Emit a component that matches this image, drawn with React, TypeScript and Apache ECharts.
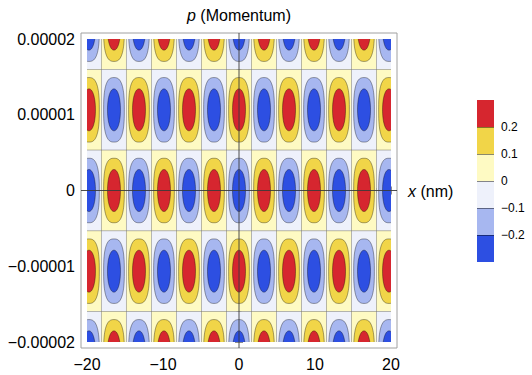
import React, { useEffect, useRef } from "react";
import * as echarts from "echarts";

// ---- data ----
const xTicks = [-20, -10, 0, 10, 20];
const xTickLabels = ["−20", "−10", "0", "10", "20"];
const yTicks = [-0.00002, -0.00001, 0, 0.00001, 0.00002];
const yTickLabels = ["−0.00002", "−0.00001", "0", "0.00001", "0.00002"];

// centres of the lobes (x in nm, y = momentum)
const lobeX = [-19.74, -16.45, -13.16, -9.87, -6.58, -3.29, 0, 3.29, 6.58, 9.87, 13.16, 16.45, 19.74];
const lobeY = [0.0000213, 0.00001065, 0, -0.00001065, -0.0000213];
// sign of each lobe, one string per row of lobeY, one char per lobeX
const lobeSign = [
  "-+-+-+-+-+-+-",
  "+-+-+-+-+-+-+",
  "-+-+-+-+-+-+-",
  "+-+-+-+-+-+-+",
  "-+-+-+-+-+-+-",
];
const lobeWidth = 3.29;
const lobeHeight = 0.00001065;

const contourLevels = [-0.3, -0.2, -0.1, 0, 0.1, 0.2, 0.3];
const levelColors = ["#2d4fe2", "#a7b7f0", "#eef1fb", "#fefac3", "#f1d548", "#d6262f"];
const colorbarTicks = [-0.2, -0.1, 0, 0.1, 0.2];
const colorbarTickLabels = ["−0.2", "−0.1", "0", "0.1", "0.2"];

const FONT = "'Liberation Sans', Arial, Helvetica, sans-serif";
const GRID = { left: 87, top: 39, width: 304, height: 303 };
const CBAR = { left: 477, top: 100, width: 17, height: 162 };

function blobPoints(cx: number, cy: number, a: number, b: number, n: number, count: number) {
  const pts: number[][] = [];
  for (let i = 0; i < count; i++) {
    const t = (i / count) * Math.PI * 2;
    const c = Math.cos(t), s = Math.sin(t);
    pts.push([
      cx + a * Math.sign(c) * Math.pow(Math.abs(c), 2 / n),
      cy + b * Math.sign(s) * Math.pow(Math.abs(s), 2 / n),
    ]);
  }
  return pts;
}

function labelFor(v: number, ticks: number[], labels: string[], eps: number) {
  for (let i = 0; i < ticks.length; i++) if (Math.abs(v - ticks[i]) < eps) return labels[i];
  return "";
}

export default function App() {
  const ref = useRef<HTMLDivElement>(null);
  useEffect(() => {
    if (!ref.current) return;
    const chart = echarts.init(ref.current, null, { renderer: "svg" });

    const lobeData: number[][] = [];
    lobeY.forEach((y, j) => {
      lobeX.forEach((x, i) => {
        lobeData.push([x, y, lobeSign[j][i] === "+" ? 1 : -1]);
      });
    });

    const bandOrder = [3, 4, 5, 2, 1, 0];
    const bandSeries = bandOrder.map((k) => {
      const lo = contourLevels[k], hi = contourLevels[k + 1];
      const v = hi > 0 ? hi - lo : lo - hi;
      return {
        type: "bar",
        name: "band" + k,
        xAxisIndex: 2,
        yAxisIndex: 2,
        stack: "cb",
        barWidth: "100%",
        barCategoryGap: 0,
        data: [v],
        itemStyle: { color: levelColors[k] },
        silent: true,
      };
    });

    const tickStyle = { color: "#8c8c8c", width: 1 };
    const labelStyle = { color: "#000", fontFamily: FONT, fontSize: 16 };

    chart.setOption({
      animation: false,
      grid: [
        { left: GRID.left, top: GRID.top, width: GRID.width, height: GRID.height },
        { left: CBAR.left, top: CBAR.top, width: CBAR.width, height: CBAR.height },
      ],
      xAxis: [
        {
          type: "value", gridIndex: 0, min: -20, max: 20, interval: 10, position: "bottom", offset: 6,
          axisLine: { show: false },
          axisTick: { show: true, inside: true, length: 4, lineStyle: tickStyle },
          minorTick: { show: true, splitNumber: 5, length: 2.5, lineStyle: tickStyle },
          splitLine: { show: false },
          axisLabel: {
            ...labelStyle, margin: 8,
            formatter: (v: number) => labelFor(v, xTicks, xTickLabels, 1e-6),
          },
        },
        {
          type: "value", gridIndex: 0, min: -20, max: 20, interval: 10, position: "top", offset: 6,
          axisLine: { show: false },
          axisTick: { show: true, inside: true, length: 4, lineStyle: tickStyle },
          minorTick: { show: true, splitNumber: 5, length: 2.5, lineStyle: tickStyle },
          splitLine: { show: false },
          axisLabel: { show: false },
        },
        {
          type: "category", gridIndex: 1, data: ["c"], show: false,
        },
      ],
      yAxis: [
        {
          type: "value", gridIndex: 0, min: -0.00002, max: 0.00002, interval: 0.00001, position: "left", offset: 6,
          axisLine: { show: false },
          axisTick: { show: true, inside: true, length: 4, lineStyle: tickStyle },
          minorTick: { show: true, splitNumber: 5, length: 2.5, lineStyle: tickStyle },
          splitLine: { show: false },
          axisLabel: {
            ...labelStyle, margin: 6,
            formatter: (v: number) => labelFor(v, yTicks, yTickLabels, 1e-12),
          },
        },
        {
          type: "value", gridIndex: 0, min: -0.00002, max: 0.00002, interval: 0.00001, position: "right", offset: 6,
          axisLine: { show: false },
          axisTick: { show: true, inside: true, length: 4, lineStyle: tickStyle },
          minorTick: { show: true, splitNumber: 5, length: 2.5, lineStyle: tickStyle },
          splitLine: { show: false },
          axisLabel: { show: false },
        },
        {
          type: "value", gridIndex: 1, min: -0.3, max: 0.3, interval: 0.1, position: "right", z: 10,
          axisLine: { show: false },
          axisTick: {
            show: true, inside: true, length: CBAR.width, customValues: colorbarTicks,
            lineStyle: { color: "rgba(0,0,0,0.45)", width: 1 },
          },
          splitLine: { show: false },
          axisLabel: {
            color: "#000", fontFamily: FONT, fontSize: 12, margin: 7,
            customValues: colorbarTicks,
            formatter: (v: number) => labelFor(v, colorbarTicks, colorbarTickLabels, 1e-6),
          },
        },
      ],
      series: [
        {
          type: "custom",
          xAxisIndex: 0,
          yAxisIndex: 0,
          clip: true,
          silent: true,
          data: lobeData,
          renderItem: (params: any, api: any) => {
            const xc = api.value(0), yc = api.value(1), s = api.value(2);
            const c = api.coord([xc, yc]);
            const sz = api.size([lobeWidth, lobeHeight]);
            const w = sz[0], h = sz[1];
            const pale = s > 0 ? levelColors[3] : levelColors[2];
            const mid = s > 0 ? levelColors[4] : levelColors[1];
            const core = s > 0 ? levelColors[5] : levelColors[0];
            return {
              type: "group",
              children: [
                {
                  type: "rect",
                  shape: { x: c[0] - w / 2, y: c[1] - h / 2, width: w, height: h },
                  style: { fill: pale, stroke: "rgba(0,0,0,0.28)", lineWidth: 0.7 },
                },
                {
                  type: "polygon",
                  shape: { points: blobPoints(c[0], c[1], 0.415 * w, 0.4 * h, 2.7, 72) },
                  style: { fill: mid, stroke: "rgba(0,0,0,0.5)", lineWidth: 0.7 },
                },
                {
                  type: "polygon",
                  shape: { points: blobPoints(c[0], c[1], 0.26 * w, 0.26 * h, 2.1, 72) },
                  style: { fill: core, stroke: "rgba(0,0,0,0.5)", lineWidth: 0.7 },
                },
              ],
            };
          },
        },
        ...bandSeries,
      ],
    });

    const tl = chart.convertToPixel({ gridIndex: 0 } as any, [-20, 0.00002]) as number[];
    const br = chart.convertToPixel({ gridIndex: 0 } as any, [20, -0.00002]) as number[];
    const o = chart.convertToPixel({ gridIndex: 0 } as any, [0, 0]) as number[];
    const pad = 6;
    const fx0 = tl[0] - pad, fx1 = br[0] + pad, fy0 = tl[1] - pad, fy1 = br[1] + pad;

    chart.setOption({
      graphic: [
        {
          type: "rect", z: 100, silent: true,
          shape: { x: fx0, y: fy0, width: fx1 - fx0, height: fy1 - fy0 },
          style: { fill: "none", stroke: "#a0a0a0", lineWidth: 1 },
        },
        {
          type: "line", z: 100, silent: true,
          shape: { x1: fx0, y1: o[1], x2: fx1, y2: o[1] },
          style: { stroke: "#3a3a3a", lineWidth: 0.9 },
        },
        {
          type: "line", z: 100, silent: true,
          shape: { x1: o[0], y1: fy0, x2: o[0], y2: fy1 },
          style: { stroke: "#3a3a3a", lineWidth: 0.9 },
        },
        {
          type: "text", z: 100, silent: true,
          x: fx1 + 11, y: o[1] + 1,
          style: {
            text: "{i|x} (nm)",
            fill: "#000", fontFamily: FONT, fontSize: 16,
            align: "left", verticalAlign: "middle",
            rich: { i: { fontStyle: "italic", fontFamily: FONT, fontSize: 16, fill: "#000" } },
          },
        },
        {
          type: "text", z: 100, silent: true,
          x: o[0], y: 15,
          style: {
            text: "{i|p} (Momentum)",
            fill: "#000", fontFamily: FONT, fontSize: 16,
            align: "center", verticalAlign: "middle",
            rich: { i: { fontStyle: "italic", fontFamily: FONT, fontSize: 16, fill: "#000" } },
          },
        },
      ],
    });

    return () => chart.dispose();
  }, []);

  return (
    <div
      ref={ref}
      style={{ position: "absolute", left: 0, top: 0, width: 532, height: 375, background: "#fff" }}
    />
  );
}
